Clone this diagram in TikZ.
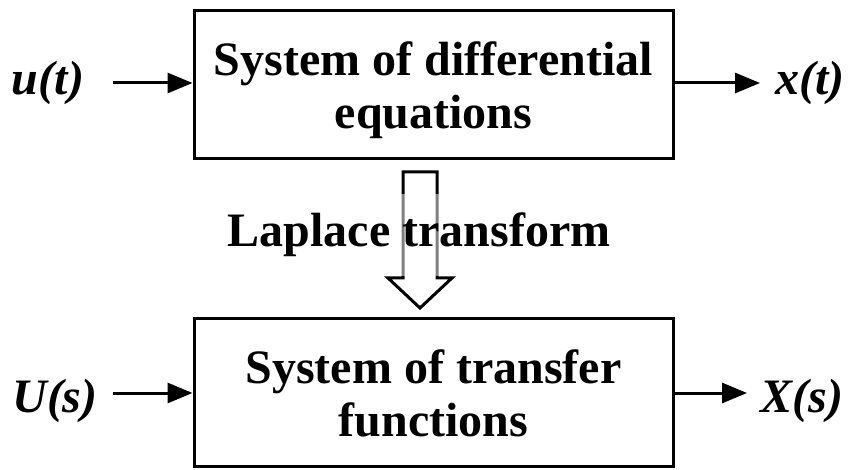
\documentclass[tikz,border=0pt]{standalone}
\usepackage{fontspec}
\setmainfont{Liberation Serif}
\usetikzlibrary{arrows.meta}
\begin{document}
\begin{tikzpicture}[x=1pt,y=-1pt,
  blockbox/.style={draw,line width=3pt,minimum width=479pt,minimum height=148pt,inner sep=0pt},
  blocktext/.style={align=center,font=\fontsize{48}{53}\selectfont\bfseries,inner sep=0pt},
  siglabel/.style={font=\fontsize{48}{53}\selectfont\bfseries\itshape,inner sep=0pt,anchor=base},
  sigarrow/.style={line width=3pt,-{Triangle[length=25pt,width=20pt]}},
  bigarrow/.style={draw,line width=3pt,fill=white,line join=miter}]
\useasboundingbox (0,0) rectangle (849,470);
% boxes
\node[blockbox] (sys1) at (433.5,84.5) {};
\node[blocktext] (sys1t) at (433.5,90) {System of differential\\equations};
\node[blockbox] (sys2) at (433.5,392.5) {};
\node[blocktext] (sys2t) at (433.5,393.5) {System of transfer\\functions};
% signals
\node[siglabel] (ut) at (48,95) {u(t)};
\node[siglabel] (xt) at (810,95) {x(t)};
\node[siglabel] (Us) at (55,412) {U(s)};
\node[siglabel] (Xs) at (802,412) {X(s)};
\coordinate (uin) at (113,83);
\coordinate (xout) at (760,83);
\coordinate (Uin) at (113,393);
\coordinate (Xout) at (747,393);
\draw[sigarrow] (uin) -- (uin -| sys1.west);
\draw[sigarrow] (xout -| sys1.east) -- (xout);
\draw[sigarrow] (Uin) -- (Uin -| sys2.west);
\draw[sigarrow] (Xout -| sys2.east) -- (Xout);
% big hollow arrow
\draw[bigarrow] (403,172) -- (437,172) -- (437,278) -- (452,278) -- (420,308) -- (388,278) -- (403,278) -- cycle;
\node[font=\fontsize{48}{53}\selectfont\bfseries,fill=white,fill opacity=0.5,text opacity=1,
      minimum height=82pt,inner xsep=2pt,anchor=base] (lap) at (419,247) {Laplace transform};
\end{tikzpicture}
\end{document}
